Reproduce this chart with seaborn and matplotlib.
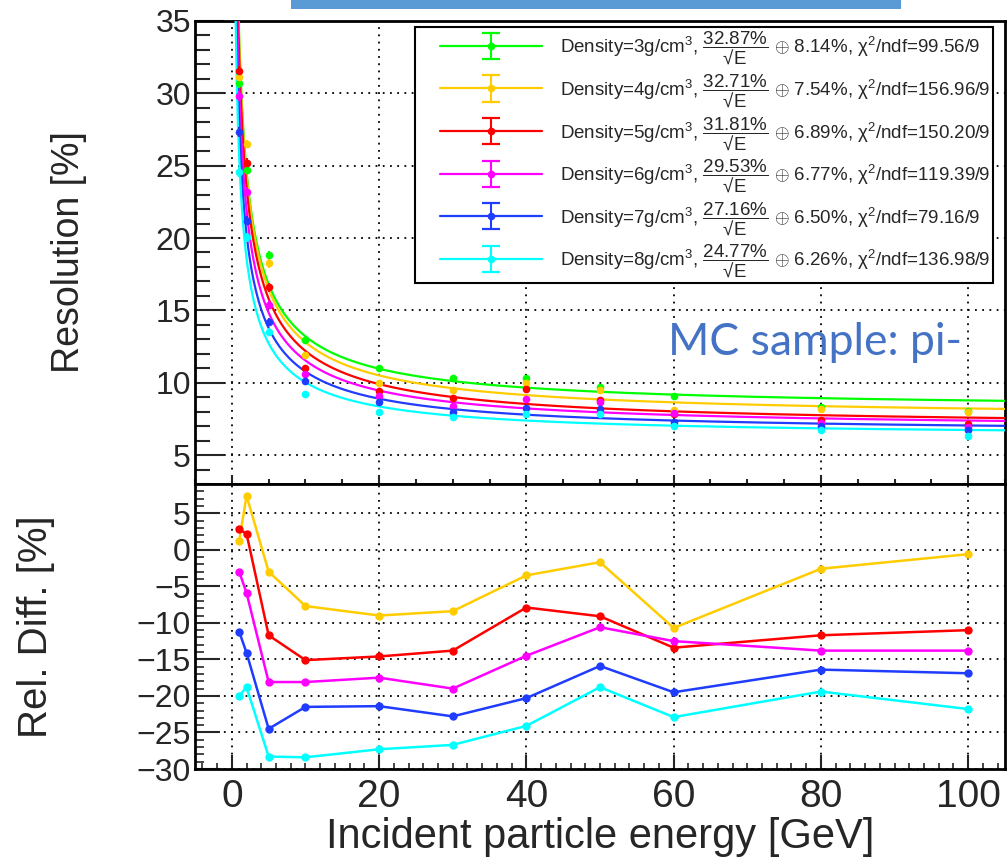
import numpy as np
import matplotlib
matplotlib.use("Agg")
import matplotlib.pyplot as plt
import seaborn as sns
from matplotlib.lines import Line2D
from matplotlib.patches import Rectangle
from matplotlib.container import ErrorbarContainer
from matplotlib.legend_handler import HandlerErrorbar
from matplotlib.ticker import MultipleLocator

# beam energies [GeV]
energy = [1, 2, 5, 10, 20, 30, 40, 50, 60, 80, 100]
densities = [3, 4, 5, 6, 7, 8]
colors = ["#00ff00", "#ffcc00", "#ff0000", "#ff00ff", "#1f3cff", "#00ffff"]

# fit a/sqrt(E) (+) b, values from the legend
stoch = [32.87, 32.71, 31.81, 29.53, 27.16, 24.77]
const = [8.14, 7.54, 6.89, 6.77, 6.50, 6.26]
chi2 = ["99.56", "156.96", "150.20", "119.39", "79.16", "136.98"]
ndf = 9

# resolution [%], upper panel
res_d3 = [30.7, 24.7, 18.8, 12.95, 11.0, 10.35, 10.35, 9.7, 9.05, 8.35, 8.05]
res_d4 = [31.1, 26.5, 18.25, 11.95, 10.0, 9.5, 10.0, 9.5, 8.1, 8.15, 8.0]
res_d5 = [31.55, 25.2, 16.6, 11.0, 9.4, 8.95, 9.55, 8.8, 7.85, 7.4, 7.15]
res_d6 = [29.8, 23.2, 15.4, 10.6, 9.1, 8.4, 8.85, 8.65, 7.9, 7.2, 6.95]
res_d7 = [27.3, 21.2, 14.2, 10.15, 8.65, 8.0, 8.25, 8.15, 7.3, 7.0, 6.7]
res_d8 = [24.55, 20.05, 13.5, 9.25, 8.0, 7.6, 7.85, 7.85, 7.0, 6.75, 6.3]
res_err = [0.35, 0.3, 0.3, 0.2, 0.15, 0.15, 0.15, 0.15, 0.15, 0.15, 0.15]

# relative difference to 3 g/cm3 [%], lower panel
diff_d4 = [1.2, 7.4, -3.0, -7.7, -9.0, -8.4, -3.5, -1.7, -10.7, -2.6, -0.6]
diff_d5 = [2.8, 2.2, -11.7, -15.1, -14.6, -13.8, -7.9, -9.1, -13.4, -11.7, -11.0]
diff_d6 = [-3.0, -5.9, -18.1, -18.1, -17.5, -19.0, -14.5, -10.6, -12.5, -13.8, -13.8]
diff_d7 = [-11.2, -14.1, -24.5, -21.5, -21.4, -22.8, -20.3, -15.9, -19.5, -16.4, -16.9]
diff_d8 = [-20.0, -18.8, -28.3, -28.4, -27.3, -26.7, -24.1, -18.8, -22.9, -19.4, -21.8]

res_all = [res_d3, res_d4, res_d5, res_d6, res_d7, res_d8]
diff_all = [diff_d4, diff_d5, diff_d6, diff_d7, diff_d8]


class CapErrorbar(HandlerErrorbar):
    # legend entry like ROOT: line + marker + vertical error bar with caps
    def create_artists(self, legend, orig_handle, xdescent, ydescent, width,
                       height, fontsize, trans):
        arts = super().create_artists(legend, orig_handle, xdescent, ydescent,
                                      width, height, fontsize, trans)
        _, yerr = self.get_err_size(legend, xdescent, ydescent, width, height, fontsize)
        xm = -xdescent + 0.5 * width
        ym = (height - ydescent) / 2
        c = orig_handle.lines[0].get_color()
        for y in (ym - yerr, ym + yerr):
            cap = Line2D([xm], [y], marker="_", ms=13, mew=1.6, color=c, ls="none",
                         transform=trans)
            arts.append(cap)
        return arts


sns.set_style("ticks")
plt.rcParams["font.family"] = ["Liberation Sans", "DejaVu Sans"]
plt.rcParams["mathtext.fontset"] = "custom"
plt.rcParams["mathtext.rm"] = "Liberation Sans"
plt.rcParams["mathtext.it"] = "Liberation Sans:italic"
plt.rcParams["mathtext.bf"] = "Liberation Sans:bold"

W, H = 1007, 863
fig = plt.figure(figsize=(W / 100, H / 100), dpi=100)
x0, x1 = 195, 1005
ax1 = fig.add_axes([x0 / W, (H - 484) / H, (x1 - x0) / W, (484 - 21) / H])
ax2 = fig.add_axes([x0 / W, (H - 769) / H, (x1 - x0) / W, (769 - 484) / H])

# slide header bar
fig.add_artist(Rectangle((291 / W, 1 - 9 / H), (901 - 291) / W, 9 / H,
                         transform=fig.transFigure, color="#5b9bd5", lw=0))

grid_kw = dict(color="black", ls=(0, (1, 3)), lw=1.3)

# upper panel: fit curves + points
e_fit = np.linspace(0.5, 105, 600)
ebs, labels = [], []
for d, c, a, b, ch, res in zip(densities, colors, stoch, const, chi2, res_all):
    f = np.sqrt((a / np.sqrt(e_fit)) ** 2 + b ** 2)
    sns.lineplot(x=e_fit, y=f, color=c, lw=1.6, ax=ax1, legend=False, zorder=3)
    eb = ax1.errorbar(energy, res, yerr=res_err, fmt="-o", color=c, ms=5.5,
                      mew=0, lw=1.6, elinewidth=1.5, zorder=4)
    ebs.append(eb)
    labels.append(f"Density={d}g/cm$^3$, " + r"$\dfrac{" + f"{a:.2f}" + r"\%}{\mathrm{√E}}$"
                  + r" $\oplus$ " + f"{b:.2f}%, χ$^2$/ndf={ch}/{ndf}")

leg = ax1.legend(ebs, labels, loc="upper left", bbox_to_anchor=(0.2716, 0.987),
                 handler_map={ErrorbarContainer: CapErrorbar(yerr_size=0.7, xpad=1.2)},
                 numpoints=1, handlelength=6.6, handletextpad=1.0, labelspacing=0.27,
                 borderpad=0.15, borderaxespad=0, fontsize=13.5, frameon=True,
                 fancybox=False, edgecolor="black", framealpha=1)
leg.get_frame().set_linewidth(1.5)
# points only, the connecting line is only wanted in the legend
for eb in ebs:
    eb.lines[0].set_linestyle("none")

ax1.set_xlim(-5, 105)
ax1.set_ylim(3, 35)
ax1.xaxis.set_major_locator(MultipleLocator(20))
ax1.xaxis.set_minor_locator(MultipleLocator(5))
ax1.yaxis.set_major_locator(MultipleLocator(5))
ax1.yaxis.set_minor_locator(MultipleLocator(1))
ax1.grid(True, which="major", **grid_kw)
ax1.tick_params(axis="y", which="major", direction="in", length=21, width=1.5,
                labelsize=23, pad=3)
ax1.tick_params(axis="y", which="minor", direction="in", length=11, width=1.5)
ax1.tick_params(axis="x", which="major", direction="in", length=6.5, width=1.5,
                labelbottom=False)
ax1.tick_params(axis="x", which="minor", direction="in", length=3.5, width=1.5)
ax1.set_ylabel("Resolution [%]", fontsize=27)
ax1.yaxis.set_label_coords(-0.133, 0.5)

fig.text(668 / W, (H - 355) / H, "MC sample: pi-", fontsize=32, color="#4472c4",
         family="Lato", va="baseline", ha="left")

# lower panel: relative difference
for c, diff in zip(colors[1:], diff_all):
    sns.lineplot(x=energy, y=diff, color=c, lw=1.8, marker="o", markersize=6,
                 markeredgewidth=0, ax=ax2, legend=False, zorder=3)

ax2.set_xlim(-5, 105)
ax2.set_ylim(-30, 9)
ax2.xaxis.set_major_locator(MultipleLocator(20))
ax2.xaxis.set_minor_locator(MultipleLocator(2))
ax2.yaxis.set_major_locator(MultipleLocator(5))
ax2.yaxis.set_minor_locator(MultipleLocator(1))
ax2.grid(True, which="major", **grid_kw)
ax2.tick_params(axis="y", which="major", direction="in", length=18, width=1.5,
                labelsize=23, pad=3)
ax2.tick_params(axis="y", which="minor", direction="in", length=6.5, width=1.2)
ax2.tick_params(axis="x", which="major", direction="in", length=10, width=1.5,
                labelsize=28, pad=7)
ax2.tick_params(axis="x", which="minor", direction="in", length=4, width=1.2)
ax2.set_ylabel("Rel. Diff. [%]", fontsize=29)
ax2.yaxis.set_label_coords(-0.173, 0.5)
ax2.set_xlabel("Incident particle energy [GeV]", fontsize=30)
ax2.xaxis.set_label_coords(0.5, -0.17)

for ax in (ax1, ax2):
    for sp in ax.spines.values():
        sp.set_visible(True)
        sp.set_linewidth(2)
        sp.set_color("black")

fig.savefig("out.png", dpi=100)
